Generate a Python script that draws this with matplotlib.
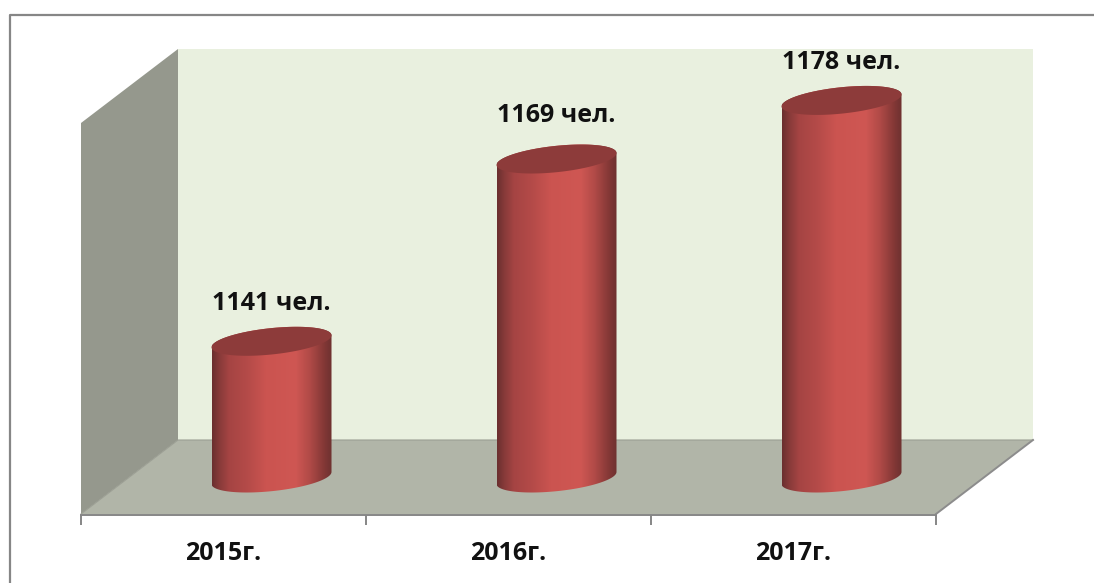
import numpy as np
import matplotlib
matplotlib.use('Agg')
import matplotlib.pyplot as plt
from matplotlib.colors import LinearSegmentedColormap
from matplotlib.patches import Polygon
from matplotlib.transforms import IdentityTransform

years = ['2015г.', '2016г.', '2017г.']
people = [1141, 1169, 1178]
value_labels = ['1141 чел.', '1169 чел.', '1178 чел.']

W, H = 1094, 583
FONT = ['Open Sans', 'DejaVu Sans']
LABEL_DY = [38, 44, 38]

fig = plt.figure(figsize=(W / 100, H / 100), dpi=100, facecolor='white')


# -- axes from pixel box given as in the picture (y down)
def px_axes(x0, y0, x1, y1, **kw):
    return fig.add_axes([x0 / W, 1 - y1 / H, (x1 - x0) / W, (y1 - y0) / H], **kw)


# -- Frame and the walls, in picture pixels
bg = px_axes(0, 0, W, H)
bg.set_xlim(0, W)
bg.set_ylim(H, 0)
bg.axis('off')
bg.plot([9.5, 9.5, W], [H, 15, 15], color='#868686', lw=1.6)
bg.add_patch(Polygon([(178, 49), (1033, 49), (1033, 440), (178, 440)], fc='#e9f0df', ec='none'))
bg.add_patch(Polygon([(81, 123), (178, 49), (178, 440), (81, 514)], fc='#95988d', ec='none'))
bg.add_patch(Polygon([(81, 514), (178, 440), (1033, 440), (936, 514)], fc='#b1b5a8', ec='none'))
bg.plot([81, 178, 1033], [514, 440, 440], color='#9b9e93', lw=0.8)
bg.plot([1033, 936], [440, 514], color='#8c8c8c', lw=1.4)

# -- Category axis along the front edge of the floor
front = px_axes(81, 300, 936, 515)
front.patch.set_alpha(0)
front.set_xlim(-0.5, 2.5)
front.set_yticks([])
for side in ['top', 'left', 'right']:
    front.spines[side].set_visible(False)
front.spines['bottom'].set_color('#868686')
front.spines['bottom'].set_linewidth(1.4)
front.set_xticks([-0.5, 0.5, 1.5, 2.5])
front.set_xticklabels([])
front.set_xticks([0, 1, 2], minor=True)
front.set_xticklabels(years, minor=True, fontsize=18, fontweight='bold', family=FONT, color='#111111')
front.tick_params(axis='x', which='major', length=7, width=1.4, color='#868686')
front.tick_params(axis='x', which='minor', length=0, pad=19)

# -- Cylinders sit on a plane behind the front edge, 1120 at the floor
ax = px_axes(129, 49, 984, 478)
ax.patch.set_alpha(0)
ax.axis('off')
ax.set_xlim(-0.5, 2.5)
ax.set_ylim(1120, 1120 + 429 / 6.51)

cmap = LinearSegmentedColormap.from_list('cyl', [
    (0.0, '#6a2f2f'), (0.05, '#843938'), (0.14, '#a54443'), (0.3, '#b54b49'), (0.45, '#cb5450'),
    (0.7, '#cf5753'), (0.82, '#b04a47'), (0.93, '#863937'), (1.0, '#6e3130')])
shade = np.linspace(0, 1, 240).reshape(1, -1)

A, B, TILT = 60, 13.2, 0.1
t_low = np.linspace(np.pi, 0, 60)
t_all = np.linspace(0, 2 * np.pi, 120)
disp = IdentityTransform()

for i, v in enumerate(people):
    cx, top = ax.transData.transform((i, v))
    _, base = ax.transData.transform((i, 1120))
    # display y goes up here, so the tilt raises the right side
    low_x = A * np.cos(t_low)
    low_y = -B * np.sin(t_low) + TILT * low_x
    up_x = A * np.cos(t_low[::-1])
    up_y = B * np.sin(t_low[::-1]) + TILT * up_x
    body = np.vstack([np.column_stack([cx + low_x, base + low_y]),
                      np.column_stack([cx + up_x, top + up_y])])
    clip = Polygon(body, transform=disp, fc='none', ec='none')
    ax.add_patch(clip)
    im = ax.imshow(shade, cmap=cmap, aspect='auto', extent=(i - 0.21, i + 0.21, 1120 - 5, v + 5), zorder=2)
    im.set_clip_box(fig.bbox)
    im.set_clip_path(clip)
    lid_x = A * np.cos(t_all)
    lid_y = B * np.sin(t_all) + TILT * lid_x
    ax.add_patch(Polygon(np.column_stack([cx + lid_x, top + lid_y]), transform=disp,
                         fc='#8d3b3a', ec='none', zorder=3, clip_on=False))
    ax.annotate(value_labels[i], (i, v), xytext=(0, LABEL_DY[i]), textcoords='offset pixels', ha='center', va='center',
                fontsize=18, fontweight='bold', family=FONT, color='#111111', annotation_clip=False)
ax.set_xlim(-0.5, 2.5)
ax.set_ylim(1120, 1120 + 429 / 6.51)

fig.savefig('out.png', dpi=100)
